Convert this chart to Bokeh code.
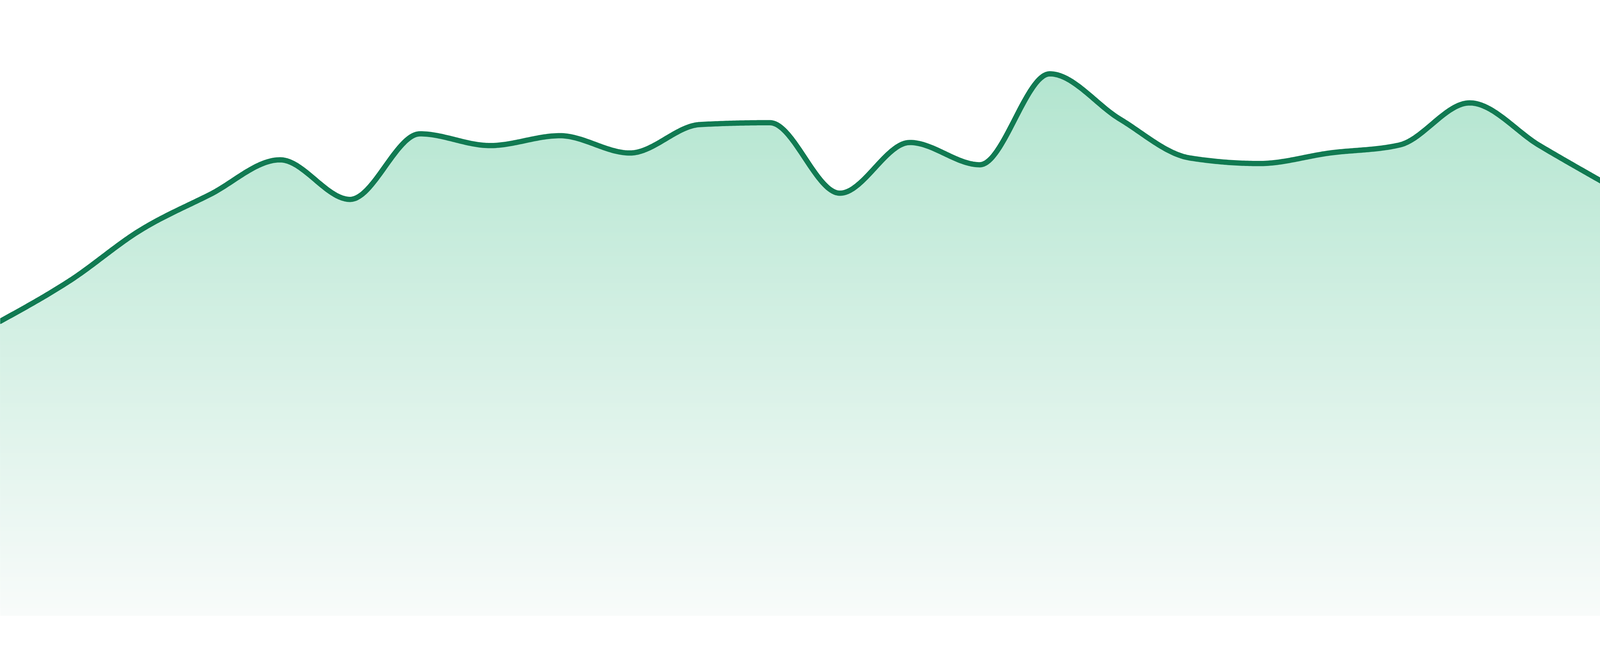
import numpy as np
from bokeh.plotting import figure
from bokeh.models import Range1d
from bokeh.embed import file_html
from bokeh.resources import INLINE

# ---- data ----
steps = list(range(24))
values = [47.6, 54.2, 62.3, 68.1, 73.7, 67.3, 77.9, 76.0, 77.6, 74.8, 79.4, 79.7,
          68.3, 76.5, 72.9, 87.6, 80.3, 74.0, 73.1, 74.8, 76.1, 82.9, 76.0, 69.5]

y_min, y_max = -1.8, 99.5

LINE_COLOR = "#117a52"
TOP_RGB = (178, 229, 207)
BOTTOM_RGB = (248, 251, 250)


def monotone_x(x, y, n=40):
    """Monotone cubic interpolation (same as d3.curveMonotoneX)."""
    x = np.asarray(x, float)
    y = np.asarray(y, float)
    m = len(x)
    h = np.diff(x)
    s = np.diff(y) / h
    t = np.zeros(m)
    for i in range(1, m - 1):
        h0, h1 = h[i - 1], h[i]
        s0, s1 = s[i - 1], s[i]
        p = (s0 * h1 + s1 * h0) / (h0 + h1)
        t[i] = (np.sign(s0) + np.sign(s1)) * min(abs(s0), abs(s1), 0.5 * abs(p))
    t[0] = (3 * s[0] - t[1]) / 2
    t[-1] = (3 * s[-1] - t[-2]) / 2
    xs, ys = [], []
    for i in range(m - 1):
        dx = h[i]
        y0, y1 = y[i], y[i + 1]
        c0, c1, c2, c3 = y0, y0 + dx / 3 * t[i], y1 - dx / 3 * t[i + 1], y1
        u = np.linspace(0, 1, n, endpoint=(i == m - 2))
        by = (1 - u) ** 3 * c0 + 3 * (1 - u) ** 2 * u * c1 + 3 * (1 - u) * u ** 2 * c2 + u ** 3 * c3
        bx = x[i] + dx * u
        xs.append(bx)
        ys.append(by)
    return np.concatenate(xs), np.concatenate(ys)


xs, ys = monotone_x(steps, values)
v_top = float(ys.max())

p = figure(width=4120, height=1605, output_backend="svg", toolbar_location=None,
           x_axis_type=None, y_axis_type=None, min_border=0,
           x_range=Range1d(steps[0], steps[-1]), y_range=Range1d(y_min, y_max))
p.grid.visible = False
p.outline_line_color = None
p.background_fill_color = "white"
p.border_fill_color = "white"

# vertical gradient under the curve: overlapping bands, each from its floor up to the curve
n_bands = 140
floors = np.linspace(0, v_top, n_bands, endpoint=False)
for lo in floors:
    f = lo / v_top
    rgb = tuple(int(round(BOTTOM_RGB[k] + (TOP_RGB[k] - BOTTOM_RGB[k]) * f)) for k in range(3))
    top = np.maximum(ys, lo)
    if not np.any(ys > lo):
        continue
    p.varea(x=xs, y1=lo, y2=top, fill_color="#%02x%02x%02x" % rgb)

# the line
p.line(xs, ys, line_color=LINE_COLOR, line_width=13.5, line_join="round", line_cap="round")

open("out.html", "w").write(file_html(p, INLINE))
